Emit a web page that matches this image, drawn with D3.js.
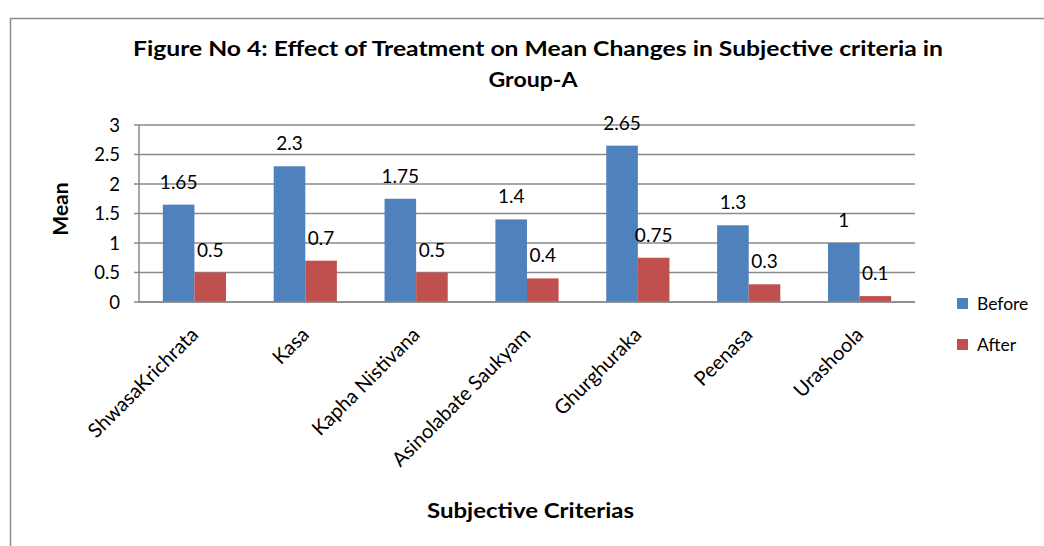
<!DOCTYPE html>
<html>
<head>
<meta charset="utf-8">
<script src="https://cdn.jsdelivr.net/npm/d3@7"></script>
<style>
  html, body { margin: 0; padding: 0; background: #fff; }
  svg { display: block; font-family: Lato, "Open Sans", sans-serif; }
</style>
</head>
<body>
<svg id="chart" width="1044" height="546"></svg>
<script>
// Subjective criteria, mean scores before and after treatment (Group-A)
const categories = ["ShwasaKrichrata", "Kasa", "Kapha Nistivana", "Asinolabate Saukyam", "Ghurghuraka", "Peenasa", "Urashoola"];
const beforeValues = [1.65, 2.3, 1.75, 1.4, 2.65, 1.3, 1];
const afterValues = [0.5, 0.7, 0.5, 0.4, 0.75, 0.3, 0.1];
const seriesNames = ["Before", "After"];
const yTicks = [0, 0.5, 1, 1.5, 2, 2.5, 3];

const colors = { Before: "#4F81BD", After: "#C0504D" };
const svg = d3.select("#chart");
const W = 1044, H = 546;

const plot = { left: 139, right: 915, top: 125, bottom: 302 };

// outer chart-area frame
svg.append("rect")
  .attr("x", 10.5).attr("y", 18.5)
  .attr("width", W + 20).attr("height", H + 20)
  .attr("fill", "none").attr("stroke", "#8c8c8c").attr("stroke-width", 1.5);

const x0 = d3.scaleBand().domain(categories).range([plot.left, plot.right]).paddingInner(0.43).paddingOuter(0.215);
const x1 = d3.scaleBand().domain(seriesNames).range([0, x0.bandwidth()]);
const y = d3.scaleLinear().domain([0, 3]).range([plot.bottom, plot.top]);

// horizontal gridlines
svg.append("g")
  .selectAll("line")
  .data(yTicks)
  .join("line")
  .attr("x1", plot.left - 5).attr("x2", plot.right)
  .attr("y1", d => y(d)).attr("y2", d => y(d))
  .attr("stroke", "#8a8a8a").attr("stroke-width", 1.5);

// y axis line
svg.append("line")
  .attr("x1", plot.left).attr("x2", plot.left)
  .attr("y1", plot.top).attr("y2", plot.bottom)
  .attr("stroke", "#8a8a8a").attr("stroke-width", 1.5);

// y tick labels
svg.append("g")
  .selectAll("text")
  .data(yTicks)
  .join("text")
  .attr("x", 120).attr("y", d => y(d))
  .attr("dy", "0.36em")
  .attr("text-anchor", "end")
  .attr("font-size", 18.5)
  .attr("fill", "#000")
  .text(d => d);

const rows = categories.map((c, i) => ({ cat: c, Before: beforeValues[i], After: afterValues[i] }));

const groups = svg.append("g")
  .selectAll("g")
  .data(rows)
  .join("g")
  .attr("transform", d => `translate(${x0(d.cat)},0)`);

groups.selectAll("rect")
  .data(d => seriesNames.map(s => ({ s, v: d[s] })))
  .join("rect")
  .attr("x", d => x1(d.s))
  .attr("y", d => y(d.v))
  .attr("width", x1.bandwidth())
  .attr("height", d => y(0) - y(d.v))
  .attr("fill", d => colors[d.s]);

// value labels
groups.selectAll("text")
  .data(d => seriesNames.map(s => ({ s, v: d[s] })))
  .join("text")
  .attr("x", d => x1(d.s) + x1.bandwidth() / 2)
  .attr("y", d => y(d.v) - 16)
  .attr("text-anchor", "middle")
  .attr("font-size", 19)
  .attr("fill", "#000")
  .text(d => d.v);

// x axis line on top of bars
svg.append("line")
  .attr("x1", plot.left).attr("x2", plot.right)
  .attr("y1", plot.bottom).attr("y2", plot.bottom)
  .attr("stroke", "#8a8a8a").attr("stroke-width", 1.5);

// rotated category labels
svg.append("g")
  .selectAll("text")
  .data(categories)
  .join("text")
  .attr("transform", d => `translate(${x0(d) + x0.bandwidth() / 2 + 5},${plot.bottom + 34}) rotate(-45)`)
  .attr("text-anchor", "end")
  .attr("font-size", 20)
  .attr("fill", "#000")
  .text(d => d);

// title
const title = svg.append("text")
  .attr("text-anchor", "middle")
  .attr("font-size", 21).attr("font-weight", "bold").attr("fill", "#000");
title.append("tspan").attr("x", 538).attr("y", 56)
  .attr("textLength", 810).attr("lengthAdjust", "spacingAndGlyphs")
  .text("Figure No 4: Effect of Treatment on Mean Changes in Subjective criteria in");
title.append("tspan").attr("x", 533).attr("y", 87)
  .attr("textLength", 89).attr("lengthAdjust", "spacingAndGlyphs")
  .text("Group-A");

// axis titles
svg.append("text")
  .attr("transform", "translate(68,209) rotate(-90)")
  .attr("text-anchor", "middle")
  .attr("font-size", 21).attr("font-weight", "bold").attr("fill", "#000")
  .text("Mean");

svg.append("text")
  .attr("x", 530.5).attr("y", 518)
  .attr("text-anchor", "middle")
  .attr("textLength", 207).attr("lengthAdjust", "spacingAndGlyphs")
  .attr("font-size", 21).attr("font-weight", "bold").attr("fill", "#000")
  .text("Subjective Criterias");

// legend
const legend = svg.append("g")
  .selectAll("g")
  .data(seriesNames)
  .join("g")
  .attr("transform", (d, i) => `translate(957,${298 + i * 41})`);
legend.append("rect").attr("width", 11).attr("height", 11).attr("fill", d => colors[d]);
legend.append("text").attr("x", 20).attr("y", 12)
  .attr("font-size", 17.5).attr("fill", "#000").text(d => d);
</script>
</body>
</html>
